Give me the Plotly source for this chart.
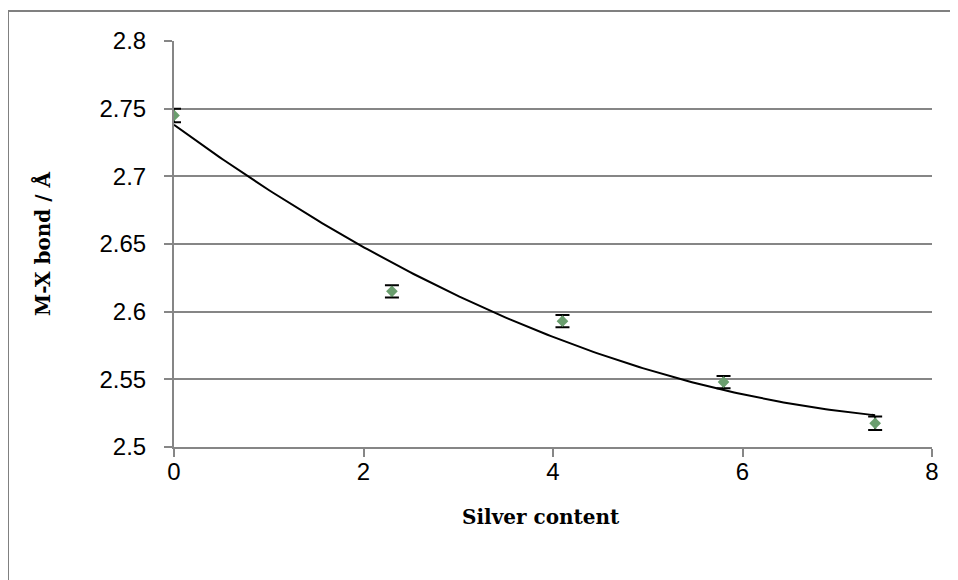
import numpy as np
import plotly.graph_objects as go

silver = [0, 2.3, 4.1, 5.8, 7.4]
bond = [2.745, 2.615, 2.593, 2.548, 2.5175]
err = [0.005, 0.0045, 0.0045, 0.0045, 0.005]

x_ticks = [0, 2, 4, 6, 8]
y_ticks = [2.5, 2.55, 2.6, 2.65, 2.7, 2.75, 2.8]
y_labels = ["2.5", "2.55", "2.6", "2.65", "2.7", "2.75", "2.8"]

coef = np.polyfit(silver, bond, 2)
xs = np.linspace(min(silver), max(silver), 200)
ys = np.polyval(coef, xs)

GRID = "#868686"
fig = go.Figure()
fig.add_trace(go.Scatter(x=xs, y=ys, mode="lines",
                         line=dict(color="black", width=2), hoverinfo="skip"))
fig.add_trace(go.Scatter(
    x=silver, y=bond, mode="markers",
    marker=dict(symbol="diamond", size=9, color="#6a9e6e"),
    error_y=dict(type="data", array=err, visible=True, color="black",
                 thickness=2, width=7)))

W, H = 950, 572
L, T, R, B = 166, 33, 26, 133
pw, ph = W - L - R, H - T - B
px = lambda v: (v - L) / pw
py = lambda v: (H - B - v) / ph

title_font = dict(family="DejaVu Serif", size=20, weight="bold", color="black")

fig.update_layout(
    width=W, height=H,
    margin=dict(l=L, r=R, t=T, b=B),
    plot_bgcolor="white", paper_bgcolor="white",
    showlegend=False,
    font=dict(family="Liberation Sans, Arial", size=24, color="black"),
    xaxis=dict(range=[0, 8], tickvals=x_ticks, ticktext=[str(v) for v in x_ticks],
               showgrid=False, zeroline=False, showline=True, linecolor=GRID,
               linewidth=2, ticks="outside", ticklen=8, tickwidth=2, tickcolor=GRID,
               ticklabelstandoff=-6),
    yaxis=dict(range=[2.5, 2.8], tickvals=y_ticks, ticktext=y_labels,
               showgrid=True, gridcolor=GRID, gridwidth=2,
               zeroline=False, showline=True, linecolor=GRID,
               linewidth=2, ticks="outside", ticklen=8, tickwidth=2, tickcolor=GRID,
               ticklabelstandoff=13),
    annotations=[
        dict(text="Silver content", xref="paper", yref="paper",
             x=px(533), y=py(509), xanchor="center", yanchor="middle",
             showarrow=False, font=title_font),
        dict(text="M-X bond / Å", xref="paper", yref="paper",
             x=px(35), y=py(236), xanchor="center", yanchor="middle",
             textangle=-90, showarrow=False, font=title_font),
    ],
    shapes=[
        dict(type="line", xref="paper", yref="paper",
             x0=px(0), x1=px(W), y0=py(3), y1=py(3),
             line=dict(color="#808080", width=2)),
        dict(type="line", xref="paper", yref="paper",
             x0=px(0), x1=px(0), y0=py(3), y1=py(H),
             line=dict(color="#808080", width=2)),
    ],
)
fig.write_html("out.html")
